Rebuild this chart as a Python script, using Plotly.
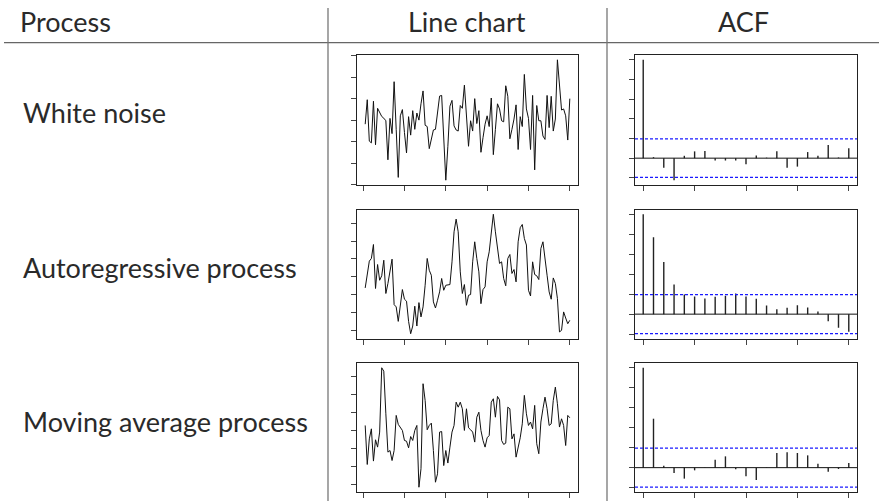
import plotly.graph_objects as go

W, H = 879, 501

# ---------------- data ----------------
process_names = ["White noise", "Autoregressive process", "Moving average process"]
header_labels = ["Process", "Line chart", "ACF"]

# series values (units = axis tick steps), t = 1..100
white_noise = [-0.19, 0.95, -0.98, -1.06, 0.88, -1.15, 0.55, 0.36, 0.17, 0.09,
               -0.03, -1.85, 0.08, -0.63, 1.79, -0.43, -2.67, 0.20, 0.49, -0.58,
               -1.53, 0.16, -0.70, 0.44, -0.43, 0.33, 0.00, 0.76, 1.36, -0.24,
               -0.30, -1.33, -0.90, -0.46, -0.43, 0.44, 1.12, 1.15, -0.90, -2.80,
               -1.22, 0.65, 0.92, -0.27, -0.46, -0.51, 0.68, 0.55, 1.63, 0.20,
               -1.22, -0.03, -0.51, 1.00, -0.16, 0.44, -1.50, -0.82, -0.19, 0.20,
               -0.30, 1.03, -1.61, -0.43, 0.76, 0.52, -0.03, -0.08, 1.60, 1.11,
               -0.87, -0.43, 0.05, 0.71, -1.37, 0.16, -0.30, 2.13, 0.52, 0.08,
               -1.37, 1.15, -2.32, 0.68, -0.03, -0.03, -0.74, -0.90, 1.15, -0.35,
               1.11, -0.51, 0.05, 2.81, 1.47, 0.47, 0.52, 0.20, -0.93, 1.00]

autoregressive = [-0.62, 0.09, 0.88, 1.03, 1.81, -0.65, 0.69, -0.19, 0.06, 0.93,
                  -0.93, -0.37, 0.28, 0.99, -1.55, -1.68, -2.49, -1.59, -0.71, -1.25,
                  -1.36, -2.49, -3.18, -2.75, -1.64, -2.75, -1.44, -2.24, -1.68, -0.47,
                  1.03, 0.37, 0.09, -1.40, -1.74, -1.31, -0.84, -0.09, -0.75, -0.47,
                  -0.43, -0.43, 0.84, 2.52, 3.23, 2.52, 0.28, -0.93, -0.43, -1.59,
                  -1.03, -0.99, 0.84, 1.96, 1.03, 0.28, -1.50, -0.71, -0.56, 0.84,
                  1.40, 2.52, 3.50, 2.52, 1.59, 0.75, 0.84, -0.09, -0.50, 1.03,
                  1.25, 0.19, 0.41, -0.28, 1.96, 2.75, 2.93, 2.15, 1.78, -0.75,
                  -1.07, 0.84, 0.13, 0.06, -0.15, 1.59, 1.96, 0.84, 0.09, -0.84,
                  -1.25, -0.06, -0.37, -1.21, -3.08, -2.99, -1.96, -2.30, -2.62, -2.43]

moving_average = [0.28, -1.90, -0.47, 0.09, -1.71, -0.52, -0.93, -0.09, 3.50, 3.31,
                  0.93, -1.21, -1.12, -1.68, -1.12, 0.84, 0.34, 0.19, 0.00, -0.56,
                  -0.60, -0.97, -0.34, -0.56, 0.00, 0.28, -3.17, -2.14, 2.61, 1.68,
                  0.04, 0.28, 0.41, -1.12, -2.89, -2.42, -0.09, -0.06, -1.96, -1.12,
                  -1.82, -0.93, -0.09, 0.28, 1.58, 1.30, 1.58, 1.21, 0.00, 1.21,
                  0.15, 0.04, -0.09, -0.65, 0.74, 1.02, 0.00, -0.56, -0.93, -0.41,
                  -0.28, 1.58, 1.77, 0.74, 1.90, 1.71, -0.56, -0.78, -0.71, 1.30,
                  1.21, -0.47, -0.19, -1.49, -1.02, -0.41, 0.37, 1.96, 0.93, 0.28,
                  0.47, 0.09, 1.40, -0.74, -1.30, 0.47, 1.21, 1.86, 1.21, 0.28,
                  0.37, 1.68, 2.42, 1.49, 0.19, 0.65, 0.28, -0.84, 0.84, 0.71]

# autocorrelations, lags 0..20
acf_white = [1.0, 0.01, -0.097, -0.224, 0.024, 0.069, 0.072, -0.024, -0.024, -0.024,
             -0.062, 0.028, 0.005, 0.069, -0.097, -0.086, 0.062, 0.024, 0.134, 0.007, 0.100]
acf_ar = [1.0, 0.769, 0.522, 0.298, 0.197, 0.177, 0.157, 0.174, 0.184, 0.207,
          0.177, 0.154, 0.087, 0.050, 0.064, 0.090, 0.067, 0.027, -0.070, -0.137, -0.177]
acf_ma = [1.0, 0.490, 0.020, -0.053, -0.110, -0.027, -0.004, 0.080, 0.113, -0.017,
          -0.087, -0.123, 0.003, 0.147, 0.153, 0.147, 0.123, 0.040, -0.040, -0.013, 0.047]

line_yticks = [-3, -2, -1, 0, 1, 2, 3]
line_xticks = [0, 20, 40, 60, 80, 100]
acf_yticks = [-0.2, 0.0, 0.2, 0.4, 0.6, 0.8, 1.0]
acf_xticks = [0, 5, 10, 15, 20]

series = [white_noise, autoregressive, moving_average]
acfs = [acf_white, acf_ar, acf_ma]

# ---------------- layout geometry (pixels) ----------------
line_x = (357, 578)
acf_x = (635, 857)
rows_y = [(55, 185), (209.5, 338.5), (363, 492)]
label_dy = [-7, -7, -6]


def fx(px):
    return px / W


def fy(py):
    return 1 - py / H


def ext(lo, hi, f=0.04):
    d = hi - lo
    return [lo - f * d, hi + f * d]


fig = go.Figure()
layout = dict(
    width=W, height=H, margin=dict(l=0, r=0, t=0, b=0),
    paper_bgcolor="white", plot_bgcolor="white", showlegend=False,
    font=dict(family="Lato, 'Open Sans', sans-serif", color="#111"),
)
shapes = []
annotations = []

axis_common = dict(showline=True, mirror=True, linecolor="#222", linewidth=1,
                   ticks="outside", ticklen=5, tickwidth=1, tickcolor="#444",
                   showticklabels=False, showgrid=False, zeroline=False, fixedrange=True)

n = len(white_noise)
clim = 1.96 / n ** 0.5
FS = 27
TXT = "#2a2a2a"

for i in range(3):
    y0, y1 = rows_y[i]
    # line chart
    k = 2 * i + 1
    s = series[i]
    t = list(range(1, len(s) + 1))
    xa = f"xaxis{k}" if k > 1 else "xaxis"
    ya = f"yaxis{k}" if k > 1 else "yaxis"
    xr = f"x{k}" if k > 1 else "x"
    yr = f"y{k}" if k > 1 else "y"
    fig.add_trace(go.Scatter(x=t, y=s, mode="lines", xaxis=xr, yaxis=yr,
                             line=dict(color="#111", width=1), hoverinfo="skip"))
    layout[xa] = dict(axis_common, domain=[fx(line_x[0]), fx(line_x[1])], anchor=yr,
                      range=ext(1, len(s)), tickvals=line_xticks)
    layout[ya] = dict(axis_common, domain=[fy(y1), fy(y0)], anchor=xr,
                      range=ext(min(s), max(s)), tickvals=line_yticks)

    # ACF chart
    k2 = 2 * i + 2
    a = acfs[i]
    xr2, yr2 = f"x{k2}", f"y{k2}"
    bx, by = [], []
    for lag, v in enumerate(a):
        bx += [lag, lag, None]
        by += [0, v, None]
    fig.add_trace(go.Scatter(x=bx, y=by, mode="lines", xaxis=xr2, yaxis=yr2,
                             line=dict(color="#222", width=1.4), hoverinfo="skip"))
    lo = min(min(a), -clim)
    hi = max(max(a), clim)
    layout[f"xaxis{k2}"] = dict(axis_common, domain=[fx(acf_x[0]), fx(acf_x[1])], anchor=yr2,
                                range=ext(0, len(a) - 1), tickvals=acf_xticks)
    layout[f"yaxis{k2}"] = dict(axis_common, domain=[fy(y1), fy(y0)], anchor=xr2,
                                range=ext(lo, hi), tickvals=acf_yticks)
    shapes.append(dict(type="line", xref=f"x{k2} domain", yref=yr2, x0=0, x1=1, y0=0, y1=0,
                       line=dict(color="#111", width=1)))
    for c in (clim, -clim):
        shapes.append(dict(type="line", xref=f"x{k2} domain", yref=yr2, x0=0, x1=1, y0=c, y1=c,
                           line=dict(color="#1a1aff", width=1.2, dash="3px,2px")))

    # row label
    annotations.append(dict(text=process_names[i], xref="paper", yref="paper",
                            x=fx(21), y=fy((y0 + y1) / 2 + label_dy[i]), xanchor="left",
                            yanchor="middle", showarrow=False,
                            font=dict(size=FS, color=TXT)))

# header
hdr_x = [(18, "left"), ((line_x[0] + line_x[1]) / 2, "center"), ((acf_x[0] + acf_x[1]) / 2 - 3, "center")]
for lab, (px, anc) in zip(header_labels, hdr_x):
    annotations.append(dict(text=lab, xref="paper", yref="paper", x=fx(px), y=fy(21),
                            xanchor=anc, yanchor="middle", showarrow=False,
                            font=dict(size=FS, color=TXT)))

# table rules
shapes.append(dict(type="line", xref="paper", yref="paper", x0=fx(4), x1=1, y0=fy(42.7), y1=fy(42.7),
                   line=dict(color="#666", width=1.3)))
for vx in (328, 607):
    shapes.append(dict(type="line", xref="paper", yref="paper", x0=fx(vx), x1=fx(vx), y0=fy(8), y1=0,
                       line=dict(color="#777", width=1.3)))

layout["shapes"] = shapes
layout["annotations"] = annotations
fig.update_layout(**layout)
fig.write_html("out.html", config={"displayModeBar": False},
               post_script="document.body.style.margin='0';document.body.style.padding='0';")
